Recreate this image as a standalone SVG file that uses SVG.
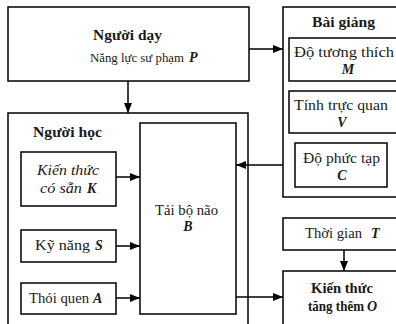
<svg xmlns="http://www.w3.org/2000/svg" width="396" height="324" viewBox="0 0 396 324" font-family="Liberation Serif, serif" font-size="14">
<defs>
<marker id="arr" viewBox="0 0 10 8" refX="10" refY="4" markerWidth="10" markerHeight="8" markerUnits="userSpaceOnUse" orient="auto">
<path d="M0,0 L10,4 L0,8 z" fill="#000"/>
</marker>
<style>
rect{fill:#fff;stroke:#000;stroke-width:1.5}
text{fill:#1a1a1a}
.b{font-weight:bold}
.bi{font-weight:bold;font-style:italic}
.i{font-style:italic}
.m{text-anchor:middle}
.c line{stroke:#000;stroke-width:1.5}
</style>
</defs>
<rect width="396" height="324" style="fill:#fff;stroke:none"/>
<g id="nguoi-day">
<rect x="8" y="7" width="241" height="74"/>
<text x="93" y="40" class="b" textLength="69" lengthAdjust="spacingAndGlyphs">Người dạy</text>
<text x="90" y="62" font-size="13" textLength="94" lengthAdjust="spacingAndGlyphs">Năng lực sư phạm</text>
<text x="189" y="62" class="bi">P</text>
</g>
<g id="bai-giang">
<rect x="283" y="7" width="125" height="190"/>
<text x="312" y="27" class="b" textLength="63" lengthAdjust="spacingAndGlyphs">Bài giảng</text>
</g>
<g id="do-tuong-thich">
<rect x="289" y="38" width="115" height="43"/>
<text x="294" y="57" textLength="100" lengthAdjust="spacingAndGlyphs">Độ tương thích</text>
<text x="348" y="74" class="bi m">M</text>
</g>
<g id="tinh-truc-quan">
<rect x="289" y="91" width="115" height="42"/>
<text x="294" y="110" textLength="94" lengthAdjust="spacingAndGlyphs">Tính trực quan</text>
<text x="342" y="127" class="bi m">V</text>
</g>
<g id="do-phuc-tap">
<rect x="295" y="143" width="92" height="44"/>
<text x="303" y="163" textLength="77" lengthAdjust="spacingAndGlyphs">Độ phức tạp</text>
<text x="342" y="180" class="bi m">C</text>
</g>
<g id="nguoi-hoc">
<rect x="8" y="113" width="240" height="220"/>
<text x="33" y="137" class="b" textLength="69" lengthAdjust="spacingAndGlyphs">Người học</text>
</g>
<g id="kien-thuc-co-san">
<rect x="21" y="152" width="95" height="54"/>
<text x="37" y="175" class="i" textLength="62" lengthAdjust="spacingAndGlyphs">Kiến thức</text>
<text x="40" y="193" class="i" textLength="42" lengthAdjust="spacingAndGlyphs">có sẵn</text>
<text x="87" y="193" class="bi">K</text>
</g>
<g id="ky-nang">
<rect x="21" y="230" width="95" height="32"/>
<text x="35" y="250" textLength="55" lengthAdjust="spacingAndGlyphs">Kỹ năng</text>
<text x="95" y="250" class="bi">S</text>
</g>
<g id="thoi-quen">
<rect x="21" y="283" width="95" height="31"/>
<text x="29" y="303" textLength="60" lengthAdjust="spacingAndGlyphs">Thói quen</text>
<text x="93" y="303" class="bi">A</text>
</g>
<g id="tai-bo-nao">
<rect x="140" y="123" width="96" height="191"/>
<text x="155" y="215" textLength="63" lengthAdjust="spacingAndGlyphs">Tải bộ não</text>
<text x="188" y="231" class="bi m">B</text>
</g>
<g id="thoi-gian">
<rect x="283" y="218" width="125" height="32"/>
<text x="305" y="238" textLength="57" lengthAdjust="spacingAndGlyphs">Thời gian</text>
<text x="371" y="238" class="bi">T</text>
</g>
<g id="kien-thuc-tang-them">
<rect x="283" y="271" width="125" height="70"/>
<text x="311" y="293" class="b" textLength="62" lengthAdjust="spacingAndGlyphs">Kiến thức</text>
<text x="308" y="311" class="b" textLength="56" lengthAdjust="spacingAndGlyphs">tăng thêm</text>
<text x="367" y="311" class="bi">O</text>
</g>
<g class="c" id="connectors">
<line x1="128" y1="81" x2="128" y2="113" marker-end="url(#arr)"/>
<line x1="249" y1="49" x2="283" y2="49" marker-end="url(#arr)"/>
<line x1="283" y1="165" x2="236" y2="165" marker-end="url(#arr)"/>
<line x1="116" y1="177" x2="140" y2="177" marker-end="url(#arr)"/>
<line x1="116" y1="246" x2="140" y2="246" marker-end="url(#arr)"/>
<line x1="116" y1="298" x2="140" y2="298" marker-end="url(#arr)"/>
<line x1="236" y1="297" x2="283" y2="297" marker-end="url(#arr)"/>
<line x1="344" y1="250" x2="344" y2="271" marker-end="url(#arr)"/>
</g>
</svg>
